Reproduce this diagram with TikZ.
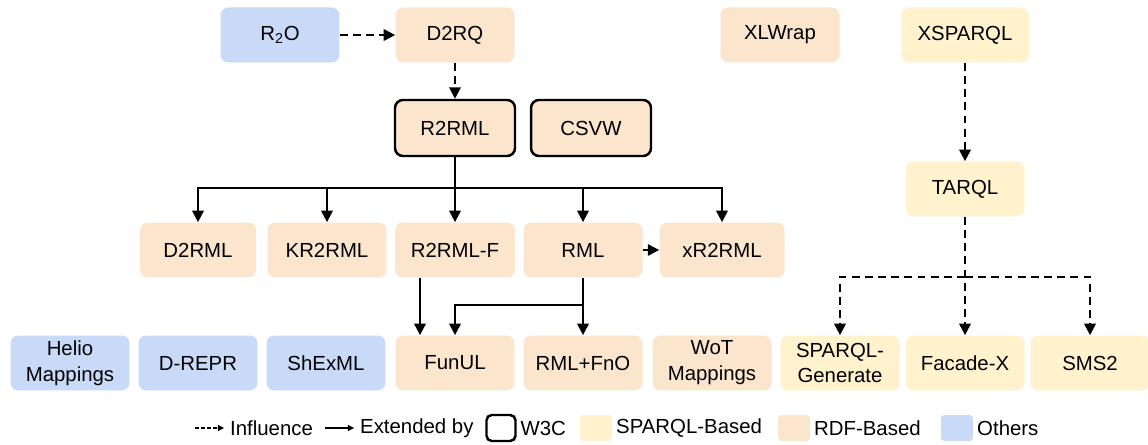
\documentclass[tikz,border=0pt]{standalone}
\usepackage{fontspec}
\setmainfont{Liberation Sans}
\usetikzlibrary{arrows.meta}
\definecolor{othersblue}{HTML}{C9DAF8}
\definecolor{rdfpeach}{HTML}{FCE5CD}
\definecolor{sparqlyellow}{HTML}{FFF2CC}

\begin{document}
\begin{tikzpicture}[x=0.02cm,y=-0.02cm,
    font=\fontsize{11.6}{14.7}\selectfont,
    tool/.style={rounded corners=4.5pt, minimum width=2.38cm, minimum height=1.1cm, align=center, inner sep=1pt},
    rdf/.style={tool, fill=rdfpeach},
    sparql/.style={tool, fill=sparqlyellow},
    others/.style={tool, fill=othersblue},
    w3c/.style={draw=black, line width=1.4pt},
    infl/.style={dash pattern=on 4.5pt off 3pt, line width=1.1pt, -{Triangle[length=6.5pt,width=6.5pt]}},
    ext/.style={line width=1.1pt, -{Triangle[length=6.5pt,width=6.5pt]}},
    lgarrow/.style={line width=0.6pt, -{Triangle[length=3.5pt,width=3.5pt]}},
    swatch/.style={rounded corners=2pt, minimum width=0.64cm, minimum height=0.52cm, inner sep=0pt}]
    \useasboundingbox (0,0) rectangle (1148,445);

    % top row
    \node[others] (r2o) at (280,35) {R\textsubscript{2}O};
    \node[rdf] (d2rq) at (455,35) {D2RQ};
    \node[rdf] (xlwrap) at (780,35) {XLWrap};
    \node[sparql, minimum width=2.55cm] (xsparql) at (965,35) {XSPARQL};

    % W3C recommendations
    \node[rdf, w3c, minimum width=2.4cm, minimum height=1.12cm] (r2rml) at (455,128) {R2RML};
    \node[rdf, w3c, minimum width=2.4cm, minimum height=1.12cm] (csvw) at (591,128) {CSVW};
    \node[sparql] (tarql) at (965,189) {TARQL};

    % R2RML extensions
    \foreach \name/\x/\w/\txt in {d2rml/198/2.32/D2RML, kr2rml/327/2.38/KR2RML, r2rmlf/455/2.4/R2RML-F, rml/583/2.38/RML, xr2rml/722/2.5/xR2RML}
        \node[rdf, minimum width=\w cm] (\name) at (\x,250) {\txt};

    % bottom row
    \foreach \name/\x/\kind/\txt in {helio/70/others/Helio\\Mappings, drepr/198/others/D-REPR, shexml/326/others/ShExML, funul/455/rdf/FunUL, rmlfno/583/rdf/RML+FnO, wot/712/rdf/WoT\\Mappings, sparqlgen/840/sparql/SPARQL-\\Generate, facadex/965/sparql/Facade-X, sms2/1090/sparql/SMS2}
        \node[\kind] (\name) at (\x,363) {\txt};

    % influence
    \draw[infl] (r2o) -- (d2rq);
    \draw[infl] (d2rq) -- (r2rml);
    \draw[infl] (xsparql) -- (tarql);
    \coordinate (tsplit) at (965,277);
    \draw[infl] (tarql) -- (facadex);
    \draw[infl] (tsplit) -| (sparqlgen);
    \draw[infl] (tsplit) -| (sms2);

    % extended by
    \coordinate (hub) at (455,188);
    \draw[ext] (r2rml) -- (r2rmlf);
    \foreach \t in {d2rml,kr2rml,rml,xr2rml}
        \draw[ext] (hub) -| (\t);
    \draw[ext] (rml) -- (xr2rml);
    \draw[ext] ([xshift=-0.7cm]r2rmlf.south) -- ([xshift=-0.7cm]funul.north);
    \coordinate (rmlsplit) at (583,305);
    \draw[ext] (rml) -- (rmlfno);
    \draw[ext] (rmlsplit) -| (funul);

    % legend
    \coordinate (lgdash) at (195,428);
    \node[anchor=west] (lginfl) at (224,428) {Influence};
    \draw[lgarrow, dash pattern=on 2pt off 1.5pt] (lgdash) -- (lginfl.west);
    \coordinate (lgsolid) at (325,428);
    \node[anchor=west] (lgext) at (354,428) {Extended by};
    \draw[lgarrow] (lgsolid) -- (lgext.west);
    \node[draw, line width=1.4pt, rounded corners=3pt, minimum width=0.58cm, minimum height=0.52cm, inner sep=0pt] (lgw3c) at (501,428) {};
    \node[anchor=west, inner sep=2pt] (lgw3ctxt) at (lgw3c.east) {W3C};
    \node[swatch, fill=sparqlyellow] (lgsparql) at (596,428) {};
    \node[anchor=west, inner sep=2pt] (lgsparqltxt) at (lgsparql.east) {SPARQL-Based};
    \node[swatch, fill=rdfpeach] (lgrdf) at (794,428) {};
    \node[anchor=west, inner sep=2pt] (lgrdftxt) at (lgrdf.east) {RDF-Based};
    \node[swatch, fill=othersblue] (lgothers) at (957,428) {};
    \node[anchor=west, inner sep=2pt] (lgotherstxt) at (lgothers.east) {Others};
\end{tikzpicture}
\end{document}
